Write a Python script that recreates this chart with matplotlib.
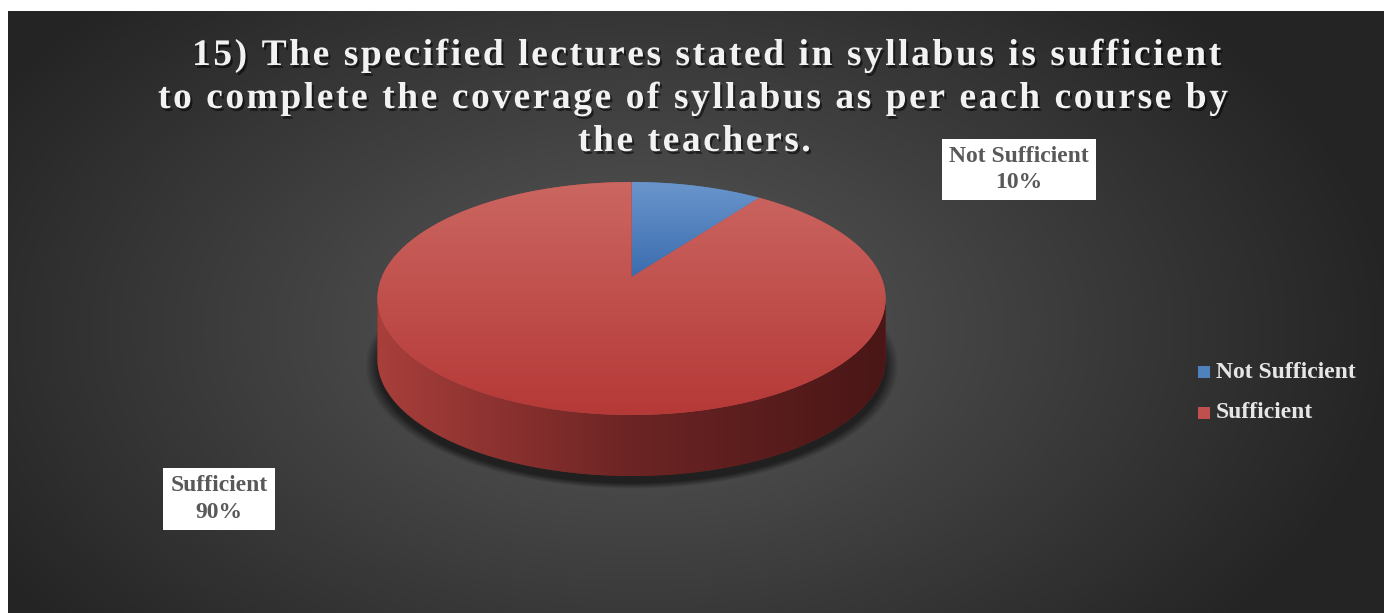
import numpy as np
import matplotlib
matplotlib.use("Agg")
import matplotlib.pyplot as plt
from matplotlib.patches import Polygon, Rectangle
from matplotlib.font_manager import FontProperties
import matplotlib.patheffects as pe

# survey answers
categories = ["Not Sufficient", "Sufficient"]
shares = [10, 90]
title_lines = ["15) The specified lectures stated in syllabus is sufficient",
               "to complete the coverage of syllabus as per each course by",
               "the teachers."]

W, H = 1392, 613
fig = plt.figure(figsize=(W / 100, H / 100), dpi=100, facecolor="white")
ax = fig.add_axes([0, 0, 1, 1])
ax.set_xlim(0, W)
ax.set_ylim(H, 0)
ax.axis("off")

# chart area with radial grey gradient
x0, x1, y0, y1 = 8, 1384, 11, 613
gx, gy = np.meshgrid(np.linspace(x0, x1, 700), np.linspace(y0, y1, 320))
rr = np.sqrt(((gx - 640) / 760) ** 2 + ((gy - 330) / 470) ** 2)
shade = (90 - 54 * np.clip(rr, 0, 1)) / 255
ax.imshow(np.dstack([shade] * 3), extent=[x0, x1, y1, y0], aspect="auto", zorder=0)

# perspective projection of the pie disc
cx, cy = 631.5, 277
A, B, k = 249.7, 112.5, 0.1845
depth = 61


def project(t, dy=0):
    u, v = np.sin(t), np.cos(t)
    d = 1 + k * v
    return cx + A * u / d, cy - B * v / d + dy


def grad_fill(poly_xy, stops, horizontal=False, z=2):
    stops = np.array(stops)
    poly = Polygon(poly_xy, closed=True, fc=stops.mean(axis=0), ec="none", zorder=z)
    ax.add_patch(poly)
    xs, ys = poly_xy[:, 0], poly_xy[:, 1]
    f = np.linspace(0, 1, 256)
    pos = np.linspace(0, 1, len(stops))
    cols = np.column_stack([np.interp(f, pos, stops[:, j]) for j in range(3)])
    img = cols[None, :, :] if horizontal else cols[:, None, :]
    im = ax.imshow(img, extent=[xs.min(), xs.max(), ys.max(), ys.min()],
                   aspect="auto", zorder=z + 0.1, interpolation="bilinear")
    im.set_clip_path(poly)


def rgb(h):
    h = h.lstrip("#")
    return [int(h[i:i + 2], 16) / 255 for i in (0, 2, 4)]


# soft shadow under the disc
sx, sy = np.meshgrid(np.arange(340, 930), np.arange(160, 520))
sr = np.sqrt(((sx - 631.5) / 254) ** 2 + ((sy - 298.5 - depth - 6) / 117) ** 2)
salpha = 0.55 * np.clip((1.05 - sr) / 0.05, 0, 1)
shadow = np.zeros(sx.shape + (4,))
shadow[..., 3] = salpha
ax.imshow(shadow, extent=[340, 930, 520, 160], aspect="auto", zorder=1)

angles = np.radians(np.concatenate([[0], np.cumsum(shares)]) * 3.6)
top_cols = [[rgb("#6a95cc"), rgb("#3a6cae")], [rgb("#cb6661"), rgb("#b53937")]]
side_cols = [[rgb("#3c5f8e"), rgb("#2a4468"), rgb("#1f3352")],
             [rgb("#a83f3b"), rgb("#6c2424"), rgb("#4a1616")]]

# visible front wall, lit from the left
t_front = (np.arccos(-k), 2 * np.pi - np.arccos(-k))
for i in range(len(shares)):
    a, b = max(angles[i], t_front[0]), min(angles[i + 1], t_front[1])
    if b <= a:
        continue
    ts = np.linspace(a, b, 200)
    tx, ty = project(ts)
    bx, by = project(ts[::-1], depth)
    wall = np.column_stack([np.concatenate([tx, bx]), np.concatenate([ty, by])])
    grad_fill(wall, side_cols[i], horizontal=True, z=2)

# top face
for i in range(len(shares)):
    ts = np.linspace(angles[i], angles[i + 1], 200)
    px, py = project(ts)
    face = np.column_stack([np.concatenate([[cx], px]), np.concatenate([[cy], py])])
    grad_fill(face, top_cols[i], z=3)

# data labels
serif = "Liberation Serif"
label_pos = [(1019, 169.5), (219, 499)]
for i, (lx, ly) in enumerate(label_pos):
    ax.text(lx, ly, f"{categories[i]}\n{shares[i]}%", ha="center", va="center",
            family=serif, weight="bold", fontsize=17, color="#595959",
            linespacing=1.32, zorder=6,
            bbox=dict(boxstyle="square,pad=0.3", fc="white", ec="none"))

# legend
leg_cols = [rgb("#4f81bd"), rgb("#c0504d")]
for i, name in enumerate(categories):
    ly = 372 + 41 * i
    ax.add_patch(Rectangle((1198, ly - 6), 12, 12, fc=leg_cols[i], ec="none", zorder=6))
    ax.text(1216, ly, name, ha="left", va="center", family=serif, weight="bold",
            fontsize=17, color="#e6e6e6", zorder=6)

# title, spread out letter by letter
prop = FontProperties(family=serif, weight="bold", size=27)
renderer = fig.canvas.get_renderer()


def width(s):
    return renderer.get_text_width_height_descent(s, prop, ismath=False)[0]


def advances(s):
    base = width("||")
    return [width("|" + c + "|") - base for c in s]


adv2 = advances(title_lines[1])
spacing = max((1070 - sum(adv2)) / (len(title_lines[1]) - 1), 0)
shadow_fx = [pe.withSimplePatchShadow(offset=(1.5, -2), shadow_rgbFace="black", alpha=0.55)]
starts = [(192, 65), (158, 108), (578, 151)]
for line, (lx, ly) in zip(title_lines, starts):
    xpos = lx
    for c, w in zip(line, advances(line)):
        if c != " ":
            ax.text(xpos, ly, c, ha="left", va="baseline", fontproperties=prop,
                    color="#f2f2f2", zorder=7, path_effects=shadow_fx)
        xpos += w + spacing

fig.savefig("out.png", dpi=100, facecolor="white")
